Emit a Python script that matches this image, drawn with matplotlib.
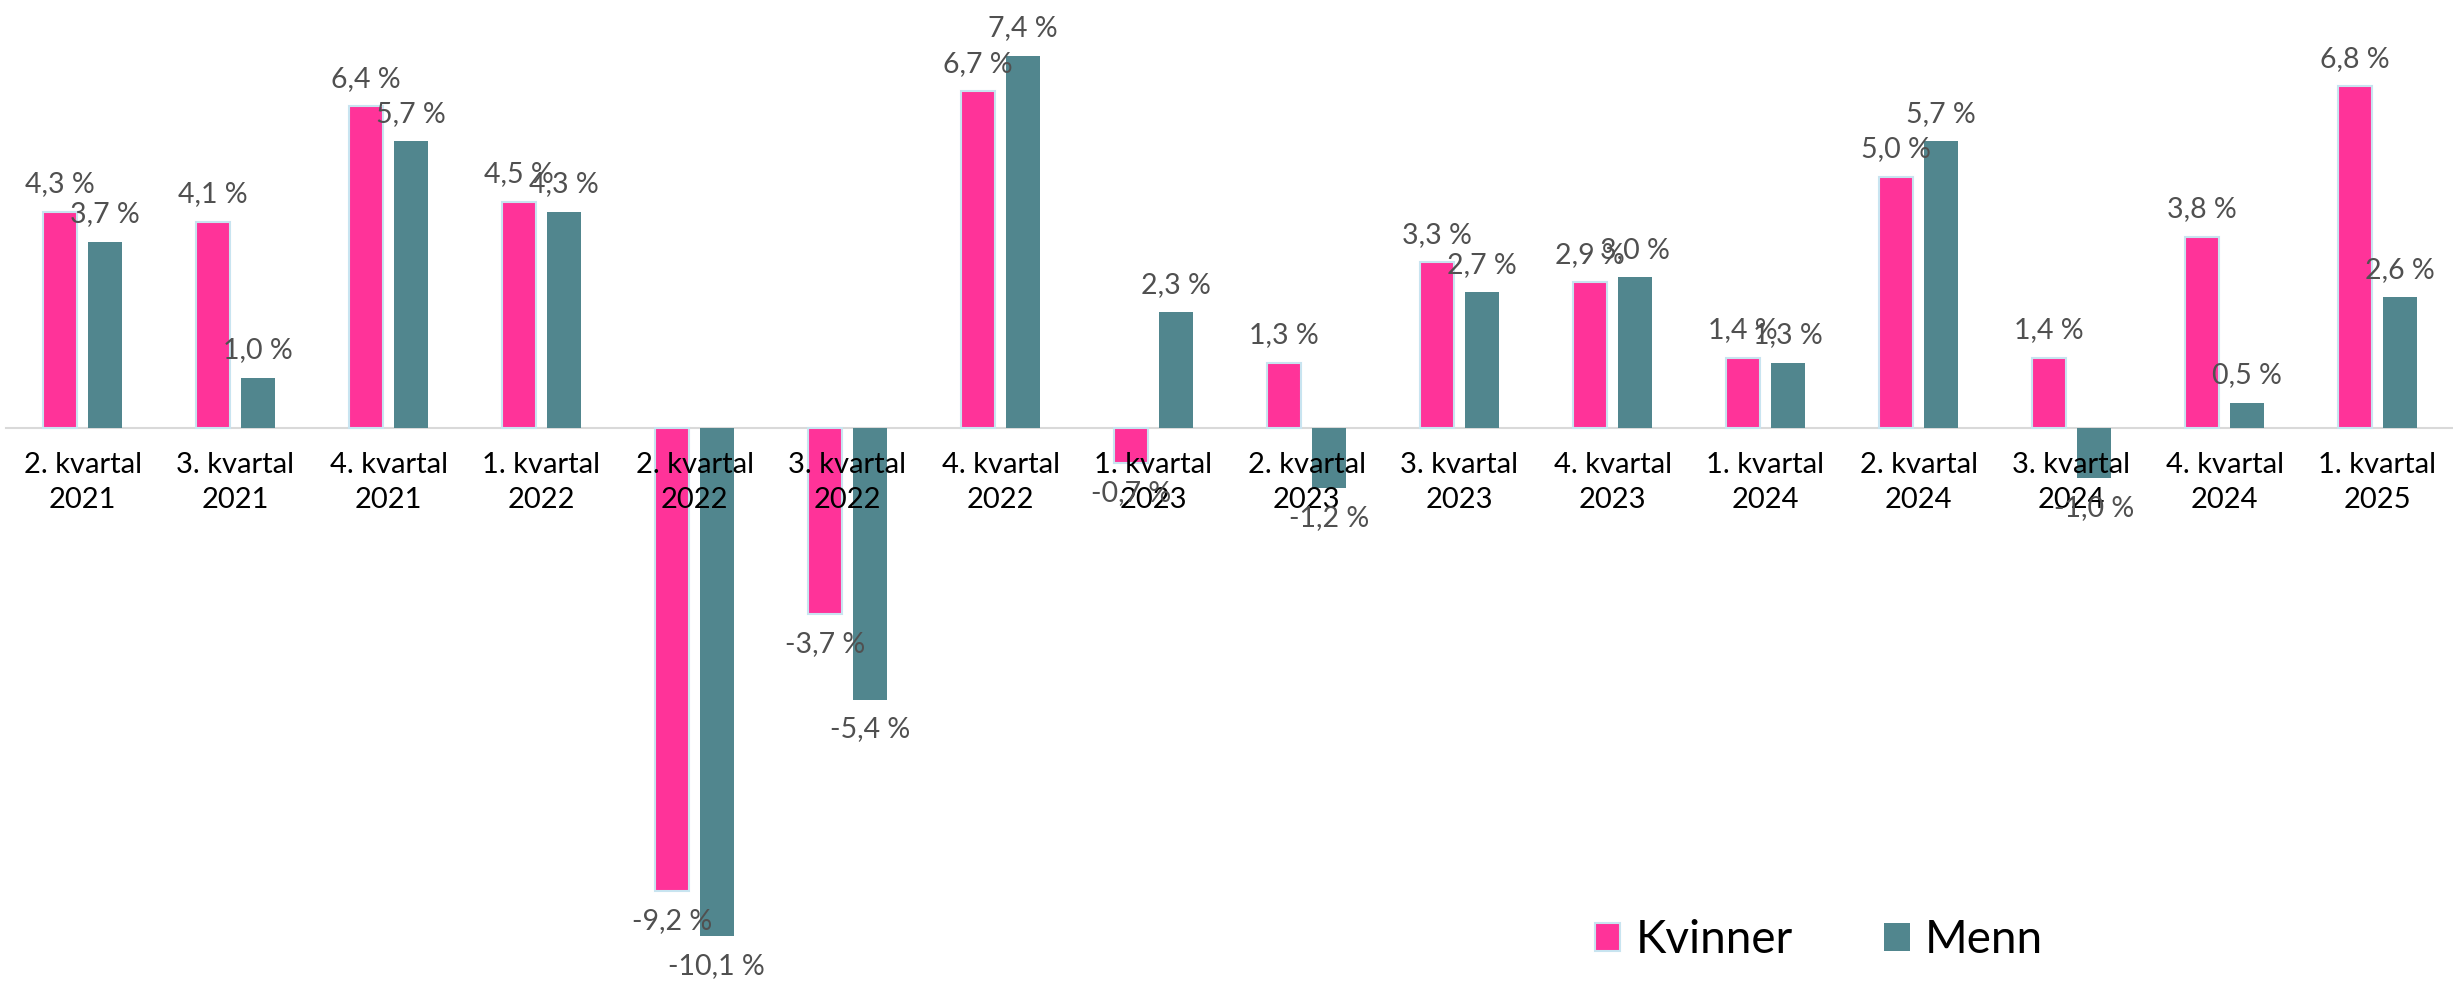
import numpy as np
import matplotlib.pyplot as plt
from matplotlib.patches import Patch

quarters = ["2. kvartal\n2021", "3. kvartal\n2021", "4. kvartal\n2021", "1. kvartal\n2022",
            "2. kvartal\n2022", "3. kvartal\n2022", "4. kvartal\n2022", "1. kvartal\n2023",
            "2. kvartal\n2023", "3. kvartal\n2023", "4. kvartal\n2023", "1. kvartal\n2024",
            "2. kvartal\n2024", "3. kvartal\n2024", "4. kvartal\n2024", "1. kvartal\n2025"]
kvinner = [4.3, 4.1, 6.4, 4.5, -9.2, -3.7, 6.7, -0.7, 1.3, 3.3, 2.9, 1.4, 5.0, 1.4, 3.8, 6.8]
menn = [3.7, 1.0, 5.7, 4.3, -10.1, -5.4, 7.4, 2.3, -1.2, 2.7, 3.0, 1.3, 5.7, -1.0, 0.5, 2.6]

plt.rcParams['font.family'] = ['Lato', 'DejaVu Sans']

pink = '#FF3399'
teal = '#51868E'

fig = plt.figure(figsize=(24.53, 9.84), dpi=100)
ax = fig.add_axes([6 / 2453, 0, 2448 / 2453, 1])

x = np.arange(len(quarters))
off = 0.146
width = 0.22

b1 = ax.bar(x - off, kvinner, width, color=pink, edgecolor='#C8E4F0', linewidth=1.5, zorder=3)
b2 = ax.bar(x + off, menn, width, color=teal, linewidth=0, zorder=3)


def fmt(v):
    return f"{v:.1f} %".replace('.', ',')


for bars, vals in [(b1, kvinner), (b2, menn)]:
    for r, v in zip(bars, vals):
        cx = r.get_x() + r.get_width() / 2
        if v >= 0:
            ax.annotate(fmt(v), (cx, v), xytext=(0, 14), textcoords='offset points',
                        ha='center', va='baseline', fontsize=20.5, color='#505050',
                        zorder=6)
        else:
            ax.annotate(fmt(v), (cx, v), xytext=(0, -12), textcoords='offset points',
                        ha='center', va='top', fontsize=20.5, color='#505050',
                        zorder=6)

ax.set_xlim(-0.5, 15.5)
ax.set_ylim(-11.05, 8.51)

for s in ['top', 'right', 'left']:
    ax.spines[s].set_visible(False)
ax.spines['bottom'].set_position(('data', 0))
ax.spines['bottom'].set_color('#D9D9D9')
ax.spines['bottom'].set_linewidth(1.5)
ax.spines['bottom'].set_zorder(2)

ax.set_yticks([])
ax.set_xticks(x)
ax.set_xticklabels(quarters, fontsize=21, color='black', linespacing=1.45)
ax.tick_params(axis='x', length=0, pad=17)
ax.xaxis.set_zorder(5)

handles = [Patch(facecolor=pink, edgecolor='#C8E4F0', linewidth=1.5, label='Kvinner'),
           Patch(facecolor=teal, label='Menn')]
fig.legend(handles=handles, loc='center', bbox_to_anchor=(1819 / 2453, 1 - 940 / 984),
           ncol=2, frameon=False, fontsize=33, handlelength=0.55, handleheight=0.55,
           handletextpad=0.33, columnspacing=2.0)

fig.savefig('out.png', dpi=100)
